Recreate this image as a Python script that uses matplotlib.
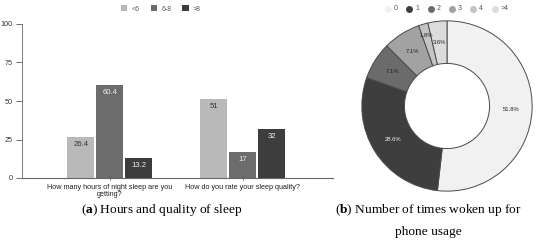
import numpy as np
import matplotlib
matplotlib.use('Agg')
import matplotlib.pyplot as plt
from matplotlib.lines import Line2D
from matplotlib.patches import Patch

plt.rcParams['font.family'] = ['Liberation Sans', 'DejaVu Sans']
plt.rcParams['mathtext.fontset'] = 'custom'
plt.rcParams['mathtext.rm'] = 'Liberation Serif'
plt.rcParams['mathtext.bf'] = 'Liberation Serif:bold'

# bar chart data
questions = ['How many hours of night sleep are you\ngetting?',
             'How do you rate your sleep quality?']
groups = ['<6', '6-8', '>8']
vals_lt6 = [26.4, 51]
vals_68 = [60.4, 17]
vals_gt8 = [13.2, 32]
bar_colors = ['#b9b9b9', '#6c6c6c', '#3d3d3d']
label_colors = ['#333333', '#eeeeee', '#eeeeee']
yticks = [0, 25, 50, 75, 100]

# donut data
wake_labels = ['0', '1', '2', '3', '4', '>4']
wake_pct = [51.8, 28.6, 7.1, 7.1, 1.8, 3.6]
wake_colors = ['#f1f1f1', '#3e3e3e', '#6b6b6b', '#a2a2a2', '#c4c4c4', '#dcdcdc']

W, H = 550, 248
fig = plt.figure(figsize=(5.5, 2.48), dpi=100)

# ---- panel (a) ----
ax = fig.add_axes([22 / W, (H - 178) / H, 311 / W, 154 / H])
x = np.arange(len(questions))
bw = 0.2
step = 0.218
series = [vals_lt6, vals_68, vals_gt8]
for i, vals in enumerate(series):
    xs = x + (i - 1) * step
    ax.bar(xs, vals, width=bw, color=bar_colors[i], edgecolor='none')
    for xi, v in zip(xs, vals):
        ax.text(xi, v - 2.5, f'{v:g}', ha='center', va='top',
                fontsize=5.6, color=label_colors[i])

ax.set_xlim(-0.66, 1.68)
ax.set_ylim(0, 100)
ax.set_yticks(yticks)
ax.set_yticklabels([str(t) for t in yticks], fontsize=5.2, color='#333333')
ax.set_xticks(x)
ax.set_xticklabels(questions, fontsize=5.2, color='#222222', linespacing=1.0)
ax.tick_params(axis='y', length=4, width=0.6, color='#555555', pad=3)
ax.tick_params(axis='x', length=3, width=0.6, color='#555555', pad=3,
               direction='inout')
for s in ['top', 'right']:
    ax.spines[s].set_visible(False)
ax.spines['left'].set_color('#666666')
ax.spines['bottom'].set_color('#666666')
ax.spines['left'].set_linewidth(0.6)
ax.spines['bottom'].set_linewidth(0.8)

handles = [Patch(facecolor=c, edgecolor='none') for c in bar_colors]
fig.legend(handles, groups, loc='center', bbox_to_anchor=(161 / W, 1 - 9 / H),
           ncol=3, frameon=False, fontsize=5, handlelength=0.9,
           handleheight=0.9, handletextpad=0.6, columnspacing=1.6,
           labelcolor='#555555')

# ---- panel (b) ----
ax2 = fig.add_axes([361 / W, (H - 192) / H, 172 / W, 172 / H])
wedges, _ = ax2.pie(wake_pct, colors=wake_colors, startangle=90,
                    counterclock=False, radius=1,
                    wedgeprops=dict(width=0.5, edgecolor='#4a4a4a',
                                    linewidth=0.7))
ax2.set_xlim(-1.01, 1.01)
ax2.set_ylim(-1.01, 1.01)
ax2.axis('off')

ang = 90.0
for p, w, c in zip(wake_pct, wedges, wake_colors):
    mid = np.deg2rad(ang - p * 3.6 / 2)
    ang -= p * 3.6
    r = 0.75
    if p < 3:
        r = 0.86
    col = '#eeeeee' if c in ('#3e3e3e',) else '#222222'
    ax2.text(r * np.cos(mid), r * np.sin(mid), f'{p:.1f}%', ha='center',
             va='center', fontsize=4.2, color=col)

lx = [388, 409, 431, 452, 473, 495]
for xp, lab, c in zip(lx, wake_labels, wake_colors):
    fig.add_artist(Line2D([xp / W], [1 - 9 / H], marker='o', markersize=5,
                          color=c, markeredgecolor='none',
                          transform=fig.transFigure))
    fig.text((xp + 6) / W, 1 - 9 / H, lab, fontsize=5, color='#555555',
             ha='left', va='center')

# ---- captions ----
fig.text(162 / W, 1 - 210 / H, r'($\mathbf{a}$) Hours and quality of sleep',
         ha='center', va='center', fontsize=9.6, family='Liberation Serif')
fig.text(428 / W, 1 - 210 / H, r'($\mathbf{b}$) Number of times woken up for',
         ha='center', va='center', fontsize=9.6, family='Liberation Serif')
fig.text(428 / W, 1 - 232 / H, 'phone usage',
         ha='center', va='center', fontsize=9.6, family='Liberation Serif')

fig.savefig('out.png', dpi=100, facecolor='white')
